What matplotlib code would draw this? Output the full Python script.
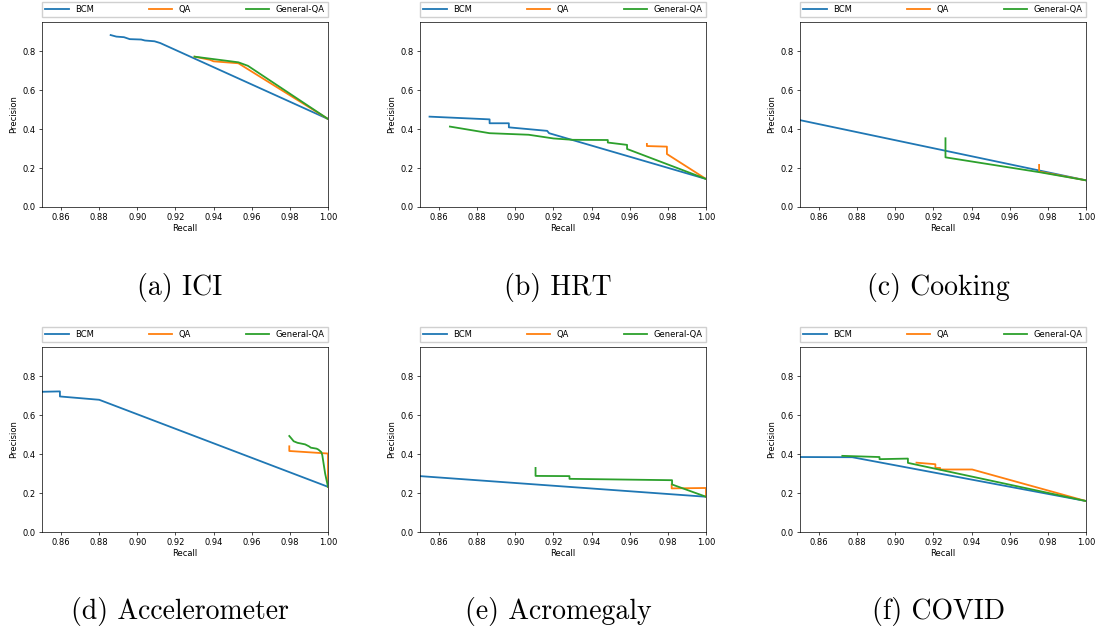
import matplotlib
matplotlib.use("Agg")
import matplotlib.pyplot as plt

# precision / recall curves
labels = ["BCM", "QA", "General-QA"]
colors = ["#1f77b4", "#ff7f0e", "#2ca02c"]
captions = ["(a) ICI", "(b) HRT", "(c) Cooking",
            "(d) Accelerometer", "(e) Acromegaly", "(f) COVID"]

# (a) ICI
ici_bcm_r = [0.886, 0.889, 0.893, 0.896, 0.902, 0.904, 0.909, 0.912, 1.0]
ici_bcm_p = [0.883, 0.875, 0.872, 0.862, 0.860, 0.855, 0.851, 0.842, 0.452]
ici_qa_r = [0.930, 0.938, 0.940, 0.953, 1.0]
ici_qa_p = [0.772, 0.756, 0.748, 0.738, 0.452]
ici_gen_r = [0.930, 0.953, 0.958, 1.0]
ici_gen_p = [0.772, 0.743, 0.725, 0.452]

# (b) HRT
hrt_bcm_r = [0.855, 0.8865, 0.8865, 0.8966, 0.8966, 0.9167, 0.9177, 1.0]
hrt_bcm_p = [0.464, 0.450, 0.430, 0.430, 0.409, 0.391, 0.379, 0.144]
hrt_qa_r = [0.969, 0.969, 0.9795, 0.9795, 1.0]
hrt_qa_p = [0.324, 0.313, 0.310, 0.272, 0.144]
hrt_gen_r = [0.8657, 0.8865, 0.907, 0.920, 0.930, 0.9485, 0.9485, 0.9586, 0.9586, 1.0]
hrt_gen_p = [0.413, 0.379, 0.371, 0.352, 0.345, 0.344, 0.331, 0.319, 0.298, 0.144]

# (c) Cooking
cook_bcm_r = [0.85, 1.0]
cook_bcm_p = [0.446, 0.137]
cook_qa_r = [0.9754, 0.9754, 1.0]
cook_qa_p = [0.216, 0.182, 0.137]
cook_gen_r = [0.9263, 0.9263, 0.9754, 1.0]
cook_gen_p = [0.353, 0.255, 0.179, 0.137]

# (d) Accelerometer
acc_bcm_r = [0.85, 0.8594, 0.8594, 0.880, 1.0]
acc_bcm_p = [0.720, 0.722, 0.696, 0.679, 0.232]
acc_qa_r = [0.9797, 0.9797, 1.0, 1.0]
acc_qa_p = [0.440, 0.416, 0.403, 0.232]
acc_gen_r = [0.9797, 0.981, 0.982, 0.984, 0.988, 0.990, 0.991, 0.994, 0.995,
             0.9965, 0.997, 0.9985, 1.0]
acc_gen_p = [0.493, 0.478, 0.466, 0.458, 0.450, 0.440, 0.433, 0.428, 0.423,
             0.410, 0.395, 0.300, 0.232]

# (e) Acromegaly
acro_bcm_r = [0.85, 1.0]
acro_bcm_p = [0.287, 0.181]
acro_qa_r = [0.982, 0.982, 1.0, 1.0]
acro_qa_p = [0.244, 0.224, 0.226, 0.181]
acro_gen_r = [0.9106, 0.9106, 0.9284, 0.9284, 0.9822, 0.9822, 1.0]
acro_gen_p = [0.329, 0.288, 0.287, 0.273, 0.266, 0.244, 0.181]

# (f) COVID
cov_bcm_r = [0.85, 0.8774, 1.0]
cov_bcm_p = [0.385, 0.384, 0.159]
cov_qa_r = [0.9111, 0.921, 0.921, 0.9235, 0.9235, 0.9403, 1.0]
cov_qa_p = [0.356, 0.348, 0.329, 0.329, 0.321, 0.321, 0.159]
cov_gen_r = [0.8722, 0.8917, 0.8917, 0.9066, 0.9066, 1.0]
cov_gen_p = [0.391, 0.385, 0.374, 0.377, 0.355, 0.159]

panels = [
    [(ici_bcm_r, ici_bcm_p), (ici_qa_r, ici_qa_p), (ici_gen_r, ici_gen_p)],
    [(hrt_bcm_r, hrt_bcm_p), (hrt_qa_r, hrt_qa_p), (hrt_gen_r, hrt_gen_p)],
    [(cook_bcm_r, cook_bcm_p), (cook_qa_r, cook_qa_p), (cook_gen_r, cook_gen_p)],
    [(acc_bcm_r, acc_bcm_p), (acc_qa_r, acc_qa_p), (acc_gen_r, acc_gen_p)],
    [(acro_bcm_r, acro_bcm_p), (acro_qa_r, acro_qa_p), (acro_gen_r, acro_gen_p)],
    [(cov_bcm_r, cov_bcm_p), (cov_qa_r, cov_qa_p), (cov_gen_r, cov_gen_p)],
]

W, H = 1097, 632
fig = plt.figure(figsize=(W / 100, H / 100), dpi=100)

col_left = [42, 420, 800]
col_cap = [180, 558, 938]
row_top = [22, 347]
row_cap = [287, 611]
ax_w, ax_h = 286, 185
fs = 6

for i, curves in enumerate(panels):
    r, c = divmod(i, 3)
    ax = fig.add_axes([col_left[c] / W, 1 - (row_top[r] + ax_h) / H, ax_w / W, ax_h / H])
    for (x, y), lab, col in zip(curves, labels, colors):
        ax.plot(x, y, color=col, lw=1.3, label=lab)
    ax.set_xlim(0.85, 1.0)
    ax.set_ylim(0, 0.95)
    ax.set_xticks([0.86, 0.88, 0.90, 0.92, 0.94, 0.96, 0.98, 1.00])
    ax.set_yticks([0.0, 0.2, 0.4, 0.6, 0.8])
    ax.tick_params(labelsize=fs, length=2.5, width=0.5, pad=2)
    for sp in ax.spines.values():
        sp.set_linewidth(0.5)
    ax.set_xlabel("Recall", fontsize=fs, labelpad=1.5)
    ax.set_ylabel("Precision", fontsize=fs, labelpad=3)
    ax.legend(bbox_to_anchor=(0, 1.025, 1.0, 0.08), loc="lower left", ncol=3,
              mode="expand", borderaxespad=0, fontsize=fs, handlelength=2.8,
              frameon=True, fancybox=False, edgecolor="#d0d0d0", framealpha=1)
    fig.text(col_cap[c] / W, 1 - row_cap[r] / H, captions[i], family="cmr10",
             fontsize=20, ha="center", va="center")

fig.savefig("out.png", dpi=100)
